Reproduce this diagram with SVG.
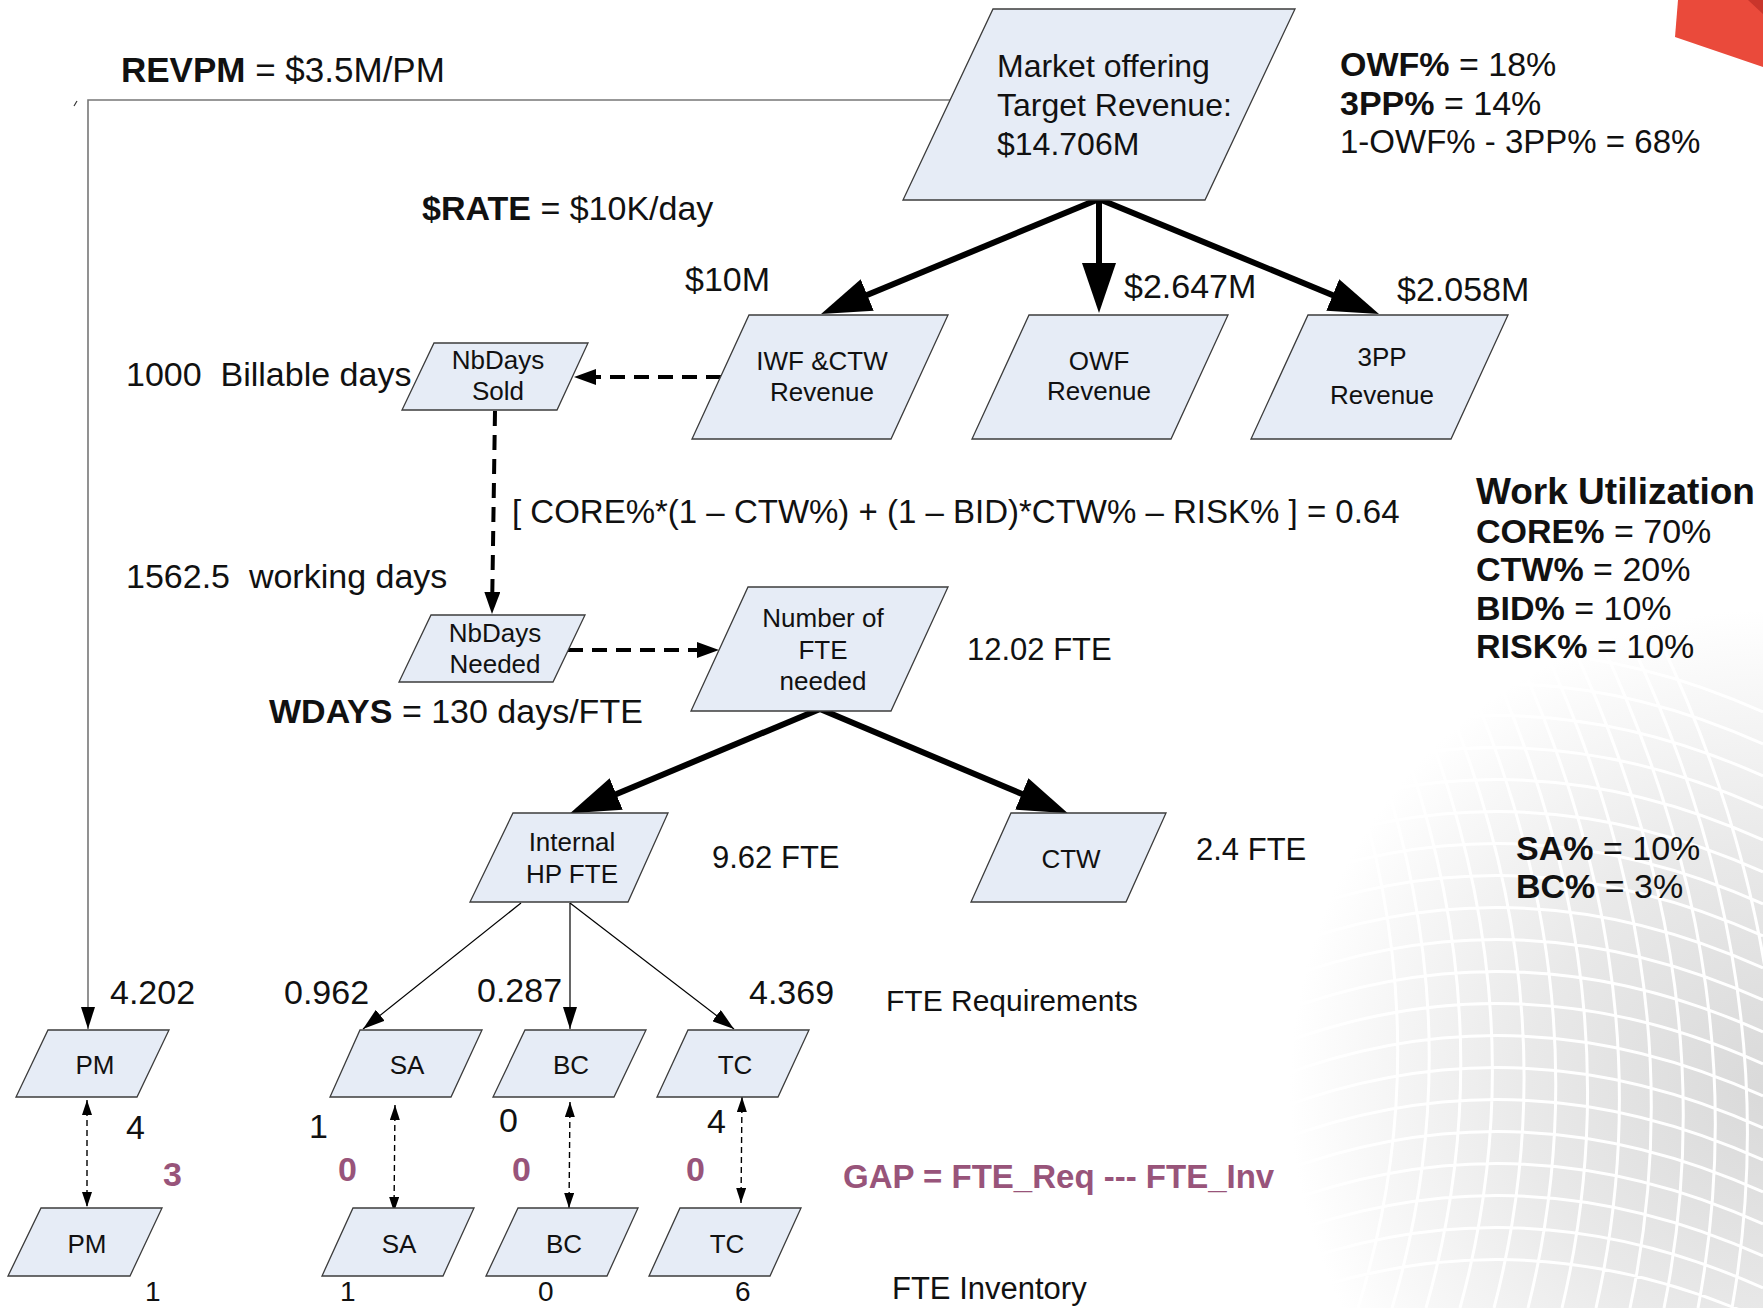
<svg xmlns="http://www.w3.org/2000/svg" width="1763" height="1308" viewBox="0 0 1763 1308">
  <defs>
    <style>
      .nd { fill:#e6ecf6; stroke:#3c3c3c; stroke-width:1.3; }
      .nl { font-family:"Liberation Sans", Arial, sans-serif; font-size:26px; fill:#111; text-anchor:middle; }
      .lb { font-family:"Liberation Sans", Arial, sans-serif; font-size:34px; fill:#111; white-space:pre; }
      .sm { font-size:33px; }
      .md { font-size:31px; }
      .ft { font-size:28px; }
      .b { font-weight:700; }
      .gap { fill:#98547a; font-weight:700; }
      .thick { stroke:#000; stroke-width:6; fill:none; }
      .dashT { stroke:#000; stroke-width:4; stroke-dasharray:15 9; fill:none; }
      .thin { stroke:#000; stroke-width:1.2; fill:none; }
      .feed { stroke:#777; stroke-width:1.6; fill:none; }
      .dashS { stroke:#000; stroke-width:1.4; stroke-dasharray:6 4; fill:none; }
    </style>
    <marker id="mBig" viewBox="0 0 50 34" markerUnits="userSpaceOnUse" markerWidth="50" markerHeight="34" refX="10" refY="17" orient="auto">
      <path d="M0,0 L50,17 L0,34 z" fill="#000"/>
    </marker>
    <marker id="mDash" viewBox="0 0 22 16" markerUnits="userSpaceOnUse" markerWidth="22" markerHeight="16" refX="8" refY="8" orient="auto">
      <path d="M0,0 L22,8 L0,16 z" fill="#000"/>
    </marker>
    <marker id="mThin" viewBox="0 0 22 14" markerUnits="userSpaceOnUse" markerWidth="22" markerHeight="14" refX="22" refY="7" orient="auto">
      <path d="M0,0 L22,7 L0,14 z" fill="#000"/>
    </marker>
    <marker id="mSmall" viewBox="0 0 15 10" markerUnits="userSpaceOnUse" markerWidth="15" markerHeight="10" refX="15" refY="5" orient="auto-start-reverse">
      <path d="M0,0 L15,5 L0,10 z" fill="#000"/>
    </marker>
    <radialGradient id="haze" cx="1770" cy="1090" r="480" gradientUnits="userSpaceOnUse">
      <stop offset="0" stop-color="#d9d9d9"/>
      <stop offset="0.5" stop-color="#e9e9e9"/>
      <stop offset="0.85" stop-color="#f8f8f8"/>
      <stop offset="1" stop-color="#ffffff"/>
    </radialGradient>
  </defs>

  <rect width="1763" height="1308" fill="#fff"/>

  <!-- backdrop: soft grey mesh lower right and red corner accent -->
  <g id="backdrop">
    <rect x="1280" y="600" width="483" height="708" fill="url(#haze)"/>
    <path fill="none" stroke="#fff" stroke-width="3" d="
      M1300,640 Q1460,980 1358,1308 M1330,640 Q1490,980 1392,1308
      M1360,640 Q1520,980 1426,1308 M1390,640 Q1550,980 1460,1308
      M1420,640 Q1580,980 1494,1308 M1450,640 Q1610,980 1528,1308 M1480,640 Q1640,980 1562,1308
      M1510,640 Q1670,980 1596,1308 M1540,640 Q1700,980 1630,1308 M1570,640 Q1730,980 1664,1308
      M1600,640 Q1760,980 1698,1308 M1630,640 Q1790,980 1732,1308 M1660,640 Q1820,980 1766,1308
      M1280,692 Q1520,602 1763,712 M1280,724 Q1520,634 1763,744
      M1280,756 Q1520,666 1763,776 M1280,788 Q1520,698 1763,808 M1280,820 Q1520,730 1763,840
      M1280,852 Q1520,762 1763,872 M1280,884 Q1520,794 1763,904 M1280,916 Q1520,826 1763,936
      M1280,948 Q1520,858 1763,968 M1280,980 Q1520,890 1763,1000 M1280,1012 Q1520,922 1763,1032
      M1280,1044 Q1520,954 1763,1064 M1280,1076 Q1520,986 1763,1096 M1280,1108 Q1520,1018 1763,1128
      M1280,1140 Q1520,1050 1763,1160 M1280,1172 Q1520,1082 1763,1192 M1280,1204 Q1520,1114 1763,1224
      M1280,1236 Q1520,1146 1763,1256 M1280,1268 Q1520,1178 1763,1288 M1280,1300 Q1520,1210 1763,1320"/>
    <polygon points="1678,0 1763,0 1763,67 1675,37" fill="#ea4a3b"/>
    <polygon points="1748,0 1763,0 1763,14" fill="#c9352b"/>
  </g>

  <!-- connectors -->
  <g id="connectors">
    <path class="feed" d="M950,100 L88,100 L88,1029" marker-end="url(#mThin)"/>
    <path d="M74,106 L77,101" stroke="#333" stroke-width="1.2" fill="none"/>
    <path class="thick" d="M1099,199 L858,298.8" marker-end="url(#mBig)"/>
    <path class="thick" d="M1099,199 L1099,273" marker-end="url(#mBig)"/>
    <path class="thick" d="M1099,199 L1342,298.9" marker-end="url(#mBig)"/>
    <path class="dashT" d="M721,377 L588,377" marker-end="url(#mDash)"/>
    <path class="dashT" d="M495,411 L492.2,600" marker-end="url(#mDash)"/>
    <path class="dashT" d="M568,650 L705,650" marker-end="url(#mDash)"/>
    <path class="thick" d="M820,709 L607,797.9" marker-end="url(#mBig)"/>
    <path class="thick" d="M820,709 L1031,797.8" marker-end="url(#mBig)"/>
    <path class="thin" d="M521,903 L363,1029" marker-end="url(#mThin)"/>
    <path class="thin" d="M570,903 L570,1029" marker-end="url(#mThin)"/>
    <path class="thin" d="M570,903 L734,1029" marker-end="url(#mThin)"/>
    <path class="dashS" d="M87,1100 L87,1207" marker-start="url(#mSmall)" marker-end="url(#mSmall)"/>
    <path class="dashS" d="M395,1105 L394,1212" marker-start="url(#mSmall)" marker-end="url(#mSmall)"/>
    <path class="dashS" d="M570,1102 L569,1208" marker-start="url(#mSmall)" marker-end="url(#mSmall)"/>
    <path class="dashS" d="M742,1097 L741,1203" marker-start="url(#mSmall)" marker-end="url(#mSmall)"/>
  </g>

  <!-- nodes -->
  <g id="market-offering">
    <polygon class="nd" points="993,9 1295,9 1205,200 903,200"/>
    <text class="lb" style="font-size:32px" x="997" y="77">Market offering</text>
    <text class="lb" style="font-size:32px" x="997" y="116">Target Revenue:</text>
    <text class="lb" style="font-size:32px" x="997" y="155">$14.706M</text>
  </g>
  <g id="iwf-ctw-revenue">
    <polygon class="nd" points="749,315 948,315 891,439 692,439"/>
    <text class="nl" x="822" y="370">IWF &amp;CTW</text>
    <text class="nl" x="822" y="401">Revenue</text>
  </g>
  <g id="owf-revenue">
    <polygon class="nd" points="1029,315 1228,315 1171,439 972,439"/>
    <text class="nl" x="1099" y="370">OWF</text>
    <text class="nl" x="1099" y="400">Revenue</text>
  </g>
  <g id="3pp-revenue">
    <polygon class="nd" points="1308,315 1508,315 1451,439 1251,439"/>
    <text class="nl" x="1382" y="366">3PP</text>
    <text class="nl" x="1382" y="404">Revenue</text>
  </g>
  <g id="nbdays-sold">
    <polygon class="nd" points="434,343 588,343 557,410 402,410"/>
    <text class="nl" x="498" y="369">NbDays</text>
    <text class="nl" x="498" y="400">Sold</text>
  </g>
  <g id="nbdays-needed">
    <polygon class="nd" points="431,615 585,615 553,682 399,682"/>
    <text class="nl" x="495" y="642">NbDays</text>
    <text class="nl" x="495" y="673">Needed</text>
  </g>
  <g id="fte-needed">
    <polygon class="nd" points="748,587 948,587 891,711 691,711"/>
    <text class="nl" x="823" y="627">Number of</text>
    <text class="nl" x="823" y="659">FTE</text>
    <text class="nl" x="823" y="690">needed</text>
  </g>
  <g id="internal-hp-fte">
    <polygon class="nd" points="513,813 668,813 628,902 470,902"/>
    <text class="nl" x="572" y="851">Internal</text>
    <text class="nl" x="572" y="883">HP FTE</text>
  </g>
  <g id="ctw">
    <polygon class="nd" points="1011,813 1166,813 1126,902 971,902"/>
    <text class="nl" x="1071" y="868">CTW</text>
  </g>
  <g id="pm-req">
    <polygon class="nd" points="48,1030 169,1030 137,1097 16,1097"/>
    <text class="nl" x="95" y="1074">PM</text>
  </g>
  <g id="sa-req">
    <polygon class="nd" points="360,1030 482,1030 451,1097 330,1097"/>
    <text class="nl" x="407" y="1074">SA</text>
  </g>
  <g id="bc-req">
    <polygon class="nd" points="525,1030 646,1030 614,1097 493,1097"/>
    <text class="nl" x="571" y="1074">BC</text>
  </g>
  <g id="tc-req">
    <polygon class="nd" points="688,1030 809,1030 778,1097 657,1097"/>
    <text class="nl" x="735" y="1074">TC</text>
  </g>
  <g id="pm-inv">
    <polygon class="nd" points="41,1208 162,1208 130,1276 8,1276"/>
    <text class="nl" x="87" y="1253">PM</text>
  </g>
  <g id="sa-inv">
    <polygon class="nd" points="353,1208 474,1208 443,1276 322,1276"/>
    <text class="nl" x="399" y="1253">SA</text>
  </g>
  <g id="bc-inv">
    <polygon class="nd" points="518,1208 638,1208 607,1276 486,1276"/>
    <text class="nl" x="564" y="1253">BC</text>
  </g>
  <g id="tc-inv">
    <polygon class="nd" points="680,1208 801,1208 770,1276 649,1276"/>
    <text class="nl" x="727" y="1253">TC</text>
  </g>

  <!-- annotations -->
  <g id="labels">
    <text class="lb" style="font-size:35px" x="121" y="82"><tspan class="b">REVPM</tspan> = $3.5M/PM</text>
    <text class="lb" x="422" y="220"><tspan class="b">$RATE</tspan> = $10K/day</text>
    <text class="lb" x="685" y="291">$10M</text>
    <text class="lb" x="1124" y="298">$2.647M</text>
    <text class="lb" x="1397" y="301">$2.058M</text>
    <text class="lb" x="1340" y="76"><tspan class="b">OWF%</tspan> = 18%</text>
    <text class="lb" x="1340" y="115"><tspan class="b">3PP%</tspan> = 14%</text>
    <text class="lb sm" x="1340" y="153">1-OWF% - 3PP% = 68%</text>
    <text class="lb" x="126" y="386">1000  Billable days</text>
    <text class="lb sm" x="512" y="523">[ CORE%*(1 – CTW%) + (1 – BID)*CTW% – RISK% ] = 0.64</text>
    <text class="lb" x="126" y="588">1562.5  working days</text>
    <text class="lb" x="269" y="723"><tspan class="b">WDAYS</tspan> = 130 days/FTE</text>
    <text class="lb md" x="967" y="660">12.02 FTE</text>
    <text class="lb md" x="712" y="868">9.62 FTE</text>
    <text class="lb md" x="1196" y="860">2.4 FTE</text>
    <text class="lb b" style="font-size:37px" x="1476" y="504">Work Utilization</text>
    <text class="lb" x="1476" y="543"><tspan class="b">CORE%</tspan> = 70%</text>
    <text class="lb" x="1476" y="581"><tspan class="b">CTW%</tspan> = 20%</text>
    <text class="lb" x="1476" y="620"><tspan class="b">BID%</tspan> = 10%</text>
    <text class="lb" x="1476" y="658"><tspan class="b">RISK%</tspan> = 10%</text>
    <text class="lb" x="1516" y="860"><tspan class="b">SA%</tspan> = 10%</text>
    <text class="lb" x="1516" y="898"><tspan class="b">BC%</tspan> = 3%</text>
    <text class="lb" x="110" y="1004">4.202</text>
    <text class="lb" x="284" y="1004">0.962</text>
    <text class="lb" x="477" y="1002">0.287</text>
    <text class="lb" x="749" y="1004">4.369</text>
    <text class="lb" style="font-size:30px" x="886" y="1011">FTE Requirements</text>
    <text class="lb" x="126" y="1139">4</text>
    <text class="lb" x="309" y="1138">1</text>
    <text class="lb" x="499" y="1132">0</text>
    <text class="lb" x="707" y="1133">4</text>
    <text class="lb gap" x="163" y="1186">3</text>
    <text class="lb gap" x="338" y="1181">0</text>
    <text class="lb gap" x="512" y="1181">0</text>
    <text class="lb gap" x="686" y="1181">0</text>
    <text class="lb sm gap" x="843" y="1188">GAP = FTE_Req --- FTE_Inv</text>
    <text class="lb ft" x="145" y="1301">1</text>
    <text class="lb ft" x="340" y="1301">1</text>
    <text class="lb ft" x="538" y="1301">0</text>
    <text class="lb ft" x="735" y="1301">6</text>
    <text class="lb md" x="892" y="1299">FTE Inventory</text>
  </g>
</svg>
